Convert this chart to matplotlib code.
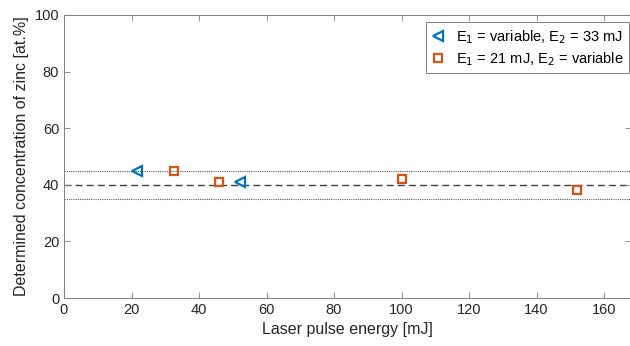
import matplotlib
matplotlib.use("Agg")
import matplotlib.pyplot as plt

plt.rcParams['font.family'] = ['Liberation Sans', 'DejaVu Sans']

e1_var_x = [21.5, 52]
e1_var_y = [45, 41]
e2_var_x = [32.5, 46, 100, 152]
e2_var_y = [45, 41, 42, 38]
nominal = 40
tol_lo, tol_hi = 35, 45

blue = (0, 0.447, 0.741)
orange = (0.85, 0.325, 0.098)
dark = (0.15, 0.15, 0.15)
spine = (0.5, 0.5, 0.5)

fig = plt.figure(figsize=(6.3, 3.46), dpi=100)
ax = fig.add_axes([64 / 630, 48 / 346, 567 / 630, 283 / 346])

ax.axhline(nominal, color=(0.25, 0.25, 0.25), ls=(0, (5, 3)), lw=1.0, zorder=1)
ax.axhline(tol_hi, color=(0.35, 0.35, 0.35), ls=(0, (1, 1)), lw=0.8, zorder=1)
ax.axhline(tol_lo, color=(0.35, 0.35, 0.35), ls=(0, (1, 1)), lw=0.8, zorder=1)

ax.plot(e1_var_x, e1_var_y, ls='none', marker='<', ms=7, mfc='none', mec=blue, mew=1.6,
        label=r'E$_1$ = variable, E$_2$ = 33 mJ', zorder=3)
ax.plot(e2_var_x, e2_var_y, ls='none', marker='s', ms=5.5, mfc='none', mec=orange, mew=1.6,
        label=r'E$_1$ = 21 mJ, E$_2$ = variable', zorder=3)

ax.set_xlim(0, 168)
ax.set_ylim(0, 100)
ax.set_xticks(range(0, 161, 20))
ax.set_yticks(range(0, 101, 20))
ax.tick_params(direction='in', top=True, right=True, labelsize=10.5, labelcolor=dark,
               color=spine, length=4, width=0.6)
for s in ax.spines.values():
    s.set_color(spine)
    s.set_linewidth(0.7)
ax.set_xlabel('Laser pulse energy [mJ]', fontsize=11.5, color=dark)
ax.set_ylabel('Determined concentration of zinc [at.%]', fontsize=11.5, color=dark)

leg = ax.legend(loc='upper right', bbox_to_anchor=(629 / 630, 1 - 22 / 346),
                bbox_transform=fig.transFigure, fontsize=10.5, fancybox=False,
                edgecolor=spine, framealpha=1, borderpad=0.4, handletextpad=0.8,
                handlelength=0.8, borderaxespad=0, labelspacing=0.3)
leg.get_frame().set_linewidth(0.7)

fig.savefig('out.png', dpi=100)
